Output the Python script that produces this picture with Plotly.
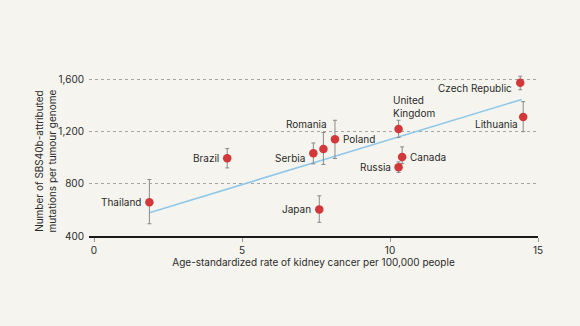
import plotly.graph_objects as go

countries = ["Thailand", "Brazil", "Serbia", "Romania", "Poland", "Japan",
             "United<br>Kingdom", "Canada", "Russia", "Czech Republic", "Lithuania"]
rate = [1.87, 4.50, 7.41, 7.75, 8.14, 7.61, 10.29, 10.41, 10.29, 14.40, 14.50]
mutations = [658, 996, 1035, 1067, 1141, 604, 1220, 1006, 927, 1575, 1312]
err_high = [833, 1070, 1113, 1193, 1287, 708, 1287, 1083, 968, 1625, 1430]
err_low = [494, 922, 953, 948, 994, 505, 1155, 956, 887, 1521, 1200]
trend_x = [1.87, 14.45]
trend_y = [578, 1447]
x_ticks = [0, 5, 10, 15]
y_ticks = [400, 800, 1200, 1600]

# label placement: (xanchor, xshift, yshift)
label_pos = {
    "Thailand": ("right", -6, 0),
    "Brazil": ("right", -6, 0),
    "Serbia": ("right", -6, -5),
    "Romania": ("center", -17, 25),
    "Poland": ("left", 6, 0),
    "Japan": ("right", -6, 0),
    "United<br>Kingdom": ("left", -8, 23),
    "Canada": ("left", 6, 0),
    "Russia": ("right", -6, 0),
    "Czech Republic": ("right", -6, -5),
    "Lithuania": ("right", -3, -7),
}

FONT = "Inter, Roboto, sans-serif"
BG = "#f5f4ee"
TXT = "#2b2b2b"

fig = go.Figure()
fig.add_trace(go.Scatter(
    x=trend_x, y=trend_y, mode="lines",
    line=dict(color="#8ec8ea", width=1.6), hoverinfo="skip", showlegend=False))
fig.add_trace(go.Scatter(
    x=rate, y=mutations, mode="markers",
    marker=dict(color="#d2373a", size=8.5),
    error_y=dict(type="data", symmetric=False,
                 array=[h - m for h, m in zip(err_high, mutations)],
                 arrayminus=[m - l for m, l in zip(mutations, err_low)],
                 color="#8a8a8a", thickness=1, width=2),
    showlegend=False))

for c, xv, yv in zip(countries, rate, mutations):
    anchor, xs, ys = label_pos[c]
    fig.add_annotation(x=xv, y=yv, text=c, showarrow=False,
                       xanchor=anchor, yanchor="middle", xshift=xs, yshift=ys,
                       align="left", font=dict(family=FONT, size=10, color=TXT))

fig.add_annotation(xref="paper", yref="paper", x=-0.096, y=0.452,
                   text="Number of SBS40b-attributed<br>mutations per tumour genome",
                   textangle=-90, showarrow=False, xanchor="center", yanchor="middle",
                   font=dict(family=FONT, size=10, color=TXT))

fig.update_layout(
    width=580, height=326,
    paper_bgcolor=BG, plot_bgcolor=BG,
    margin=dict(l=89, r=42, t=69, b=90),
    font=dict(family=FONT, size=10, color=TXT),
    xaxis=dict(range=[-0.17, 15], tickvals=x_ticks, showgrid=False, zeroline=False,
               showline=True, linecolor="#1a1a1a", linewidth=2,
               ticks="outside", ticklen=4, tickcolor="#999", tickwidth=1,
               title=dict(text="Age-standardized rate of kidney cancer per 100,000 people",
                          font=dict(size=10), standoff=3)),
    yaxis=dict(range=[400, 1680], tickvals=y_ticks, tickformat=",",
               showgrid=True, gridcolor="#a5a5a5", griddash="dot", gridwidth=1,
               zeroline=False, showline=False, ticks="", ticklabelstandoff=4),
)

fig.write_html("out.html", config={"displayModeBar": False},
               post_script="document.body.style.margin='0';document.body.style.background='#f5f4ee';")
